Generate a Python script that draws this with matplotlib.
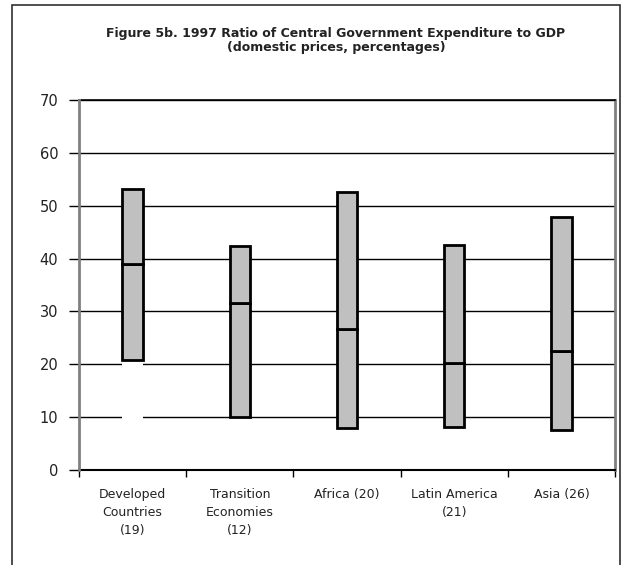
import matplotlib
matplotlib.use("Agg")
import matplotlib.pyplot as plt
from matplotlib.patches import Rectangle

categories = ["Developed\nCountries\n(19)", "Transition\nEconomies\n(12)", "Africa (20)",
              "Latin America\n(21)", "Asia (26)"]
minimum = [20.8, 10.1, 7.9, 8.2, 7.6]
median = [38.9, 31.6, 26.7, 20.3, 22.5]
maximum = [53.1, 42.4, 52.5, 42.6, 47.9]
yticks = [0, 10, 20, 30, 40, 50, 60, 70]

W, H = 624, 565
fig = plt.figure(figsize=(W / 100, H / 100), dpi=100)
fig.patch.set_facecolor("white")

# outer frame (bottom is cut off in the reference)
fig.patches.append(Rectangle((11.5 / W, -0.05), (620 - 11.5) / W, 1.05 - 4.5 / H,
                             transform=fig.transFigure, fill=False,
                             edgecolor="#303030", linewidth=1.2, zorder=0))

ax = fig.add_axes([79 / W, 1 - 470 / H, (615 - 79) / W, (470 - 100) / H])
x = list(range(len(categories)))
bw = 0.19

ax.set_ylim(0, 70)
ax.set_xlim(-0.5, len(categories) - 0.5)
ax.set_yticks(yticks)
ax.yaxis.grid(True, color="black", linewidth=1.0, zorder=0)
ax.set_axisbelow(True)

# white base below first bar (hides gridlines as in reference)
ax.bar(x[0], minimum[0], width=bw, bottom=0, color="white", edgecolor="none", zorder=1)

lower = [m - lo for m, lo in zip(median, minimum)]
upper = [hi - m for hi, m in zip(maximum, median)]
ax.bar(x, lower, width=bw, bottom=minimum, color="#C0C0C0", edgecolor="black",
       linewidth=2, zorder=2)
ax.bar(x, upper, width=bw, bottom=median, color="#C0C0C0", edgecolor="black",
       linewidth=2, zorder=2)

ax.set_xticks(x)
ax.set_xticklabels(categories, fontsize=9, color="#222222", linespacing=1.5)
ax.set_xticks([i + 0.5 for i in range(-1, len(categories))], minor=True)
ax.tick_params(axis="x", which="major", length=0, pad=13)
ax.tick_params(axis="x", which="minor", length=5, width=1, color="black", direction="out")
ax.tick_params(axis="y", length=7, width=1, color="black", labelsize=10.5,
               labelcolor="#222222", pad=8)

for side in ["left", "right"]:
    ax.spines[side].set_color("#808080")
    ax.spines[side].set_linewidth(2)
ax.spines["top"].set_color("black")
ax.spines["top"].set_linewidth(1.2)
ax.spines["bottom"].set_color("black")
ax.spines["bottom"].set_linewidth(1.5)
ax.spines["left"].set_zorder(3)

fig.text(336 / W, 1 - 33 / H, "Figure 5b. 1997 Ratio of Central Government Expenditure to GDP",
         ha="center", va="center", fontsize=9, fontweight="bold", color="#222222")
fig.text(336 / W, 1 - 47 / H, "(domestic prices, percentages)",
         ha="center", va="center", fontsize=9, fontweight="bold", color="#222222")

fig.savefig("out.png", dpi=100, facecolor="white")
